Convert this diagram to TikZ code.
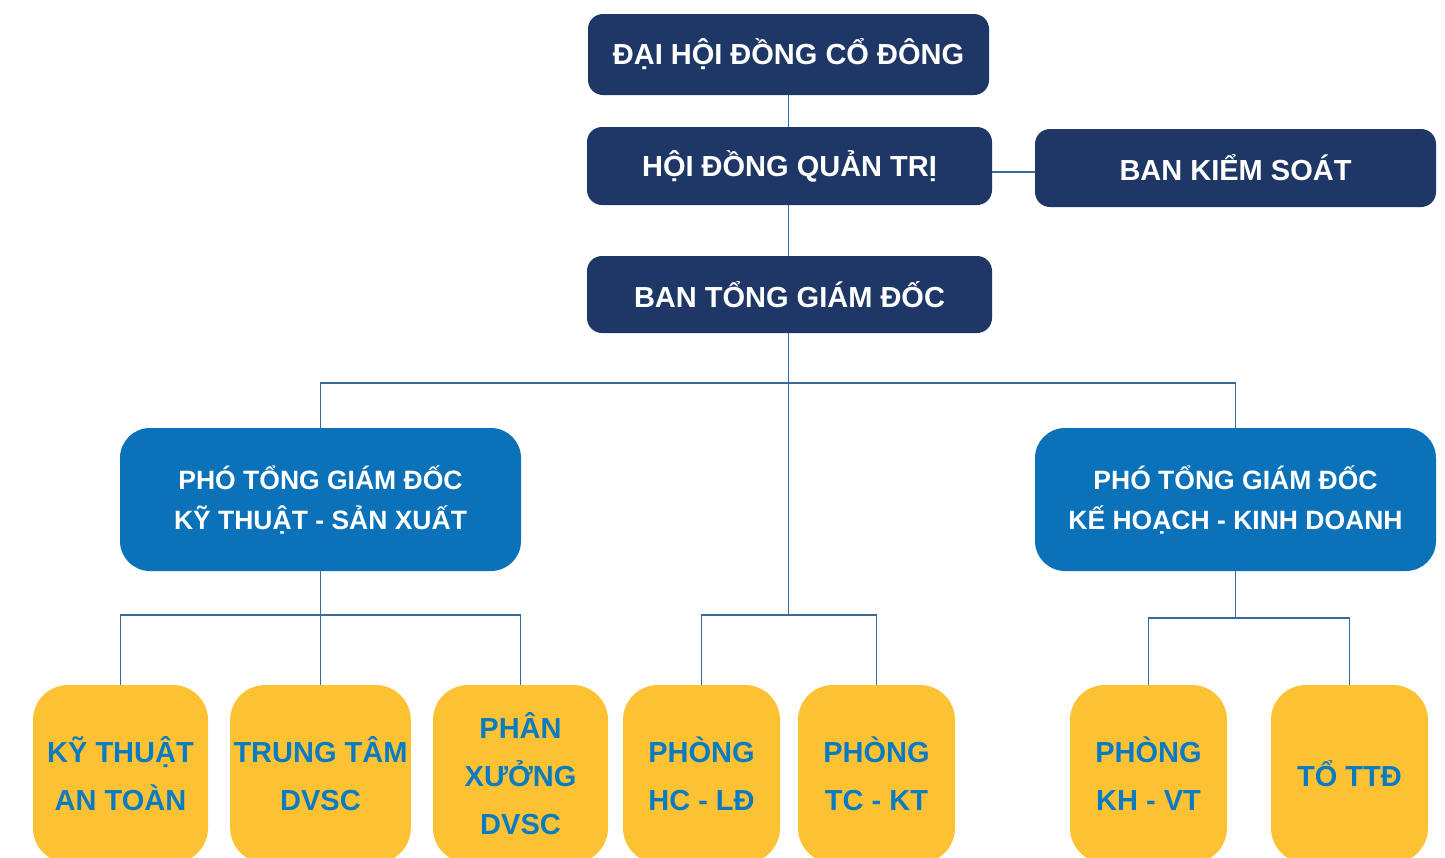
\documentclass[tikz,border=0pt]{standalone}
\usepackage{fontspec}
\setmainfont{Liberation Sans}
\definecolor{navy}{HTML}{1F3767}
\definecolor{midblue}{HTML}{0B72B9}
\definecolor{gold}{HTML}{FDC234}
\definecolor{goldtext}{HTML}{0B7BC1}
\definecolor{linkcol}{HTML}{3A6A9A}
\tikzset{
  topbox/.style={fill=navy,text=white,rounded corners=15pt,font=\bfseries\fontsize{29}{35}\selectfont},
  vicebox/.style={fill=midblue,text=white,rounded corners=30pt,minimum width=401pt,minimum height=143pt,align=center,font=\bfseries\fontsize{26.5}{40}\selectfont},
  unitbox/.style={fill=gold,text=goldtext,rounded corners=35pt,minimum height=178pt,align=center,font=\bfseries\fontsize{29}{48}\selectfont},
  link/.style={color=linkcol,line width=1.5pt}
}
\begin{document}
\begin{tikzpicture}[x=1pt,y=-1pt]
\clip (0,0) rectangle (1445,857);
\fill[white] (0,0) rectangle (1445,857);
% top levels
\node[topbox,minimum width=401pt,minimum height=81pt] (dhd) at (788.5,54.5) {ĐẠI HỘI ĐỒNG CỔ ĐÔNG};
\node[topbox,minimum width=405pt,minimum height=78pt] (hdqt) at (789.5,166) {HỘI ĐỒNG QUẢN TRỊ};
\node[topbox,minimum width=401pt,minimum height=78pt] (bks) at (1235.5,168) {BAN KIỂM SOÁT};
\node[topbox,minimum width=405pt,minimum height=77pt] (btgd) at (789.5,294.5) {BAN TỔNG GIÁM ĐỐC};
% vice directors
\node[vicebox] (ptkt) at (320.5,499.5) {PHÓ TỔNG GIÁM ĐỐC\\KỸ THUẬT - SẢN XUẤT};
\node[vicebox] (ptkd) at (1235.5,499.5) {PHÓ TỔNG GIÁM ĐỐC\\KẾ HOẠCH - KINH DOANH};
% units
\node[unitbox,minimum width=175pt] (ktat) at (120.5,774) {KỸ THUẬT\\AN TOÀN};
\node[unitbox,minimum width=175pt] (ttdv) at (320.5,774) {TRUNG TÂM\\DVSC};
\node[unitbox,minimum width=175pt] (pxdv) at (520.5,774) {PHÂN\\XƯỞNG\\DVSC};
\node[unitbox,minimum width=157pt] (hcld) at (701.5,774) {PHÒNG\\HC - LĐ};
\node[unitbox,minimum width=157pt] (tckt) at (876.5,774) {PHÒNG\\TC - KT};
\node[unitbox,minimum width=157pt] (khvt) at (1148.5,774) {PHÒNG\\KH - VT};
\node[unitbox,minimum width=157pt] (tttd) at (1349.5,774) {TỔ TTĐ};
% connectors
\draw[link] (dhd.south) -- (dhd.south |- hdqt.north);
\draw[link] ([yshift=-6pt]hdqt.east) -- ([yshift=-6pt]hdqt.east -| bks.west);
\draw[link] (hdqt.south -| dhd.south) -- (btgd.north -| dhd.south);
\draw[link] (ptkt.north) -- ++(0,-45) -| (ptkd.north);
\draw[link] (btgd.south -| dhd.south) -- ++(0,282) coordinate (midjoin);
\draw[link] (hcld.north) |- (midjoin) -| (tckt.north);
\draw[link] (ptkt.south) -- ++(0,44) coordinate (leftjoin);
\draw[link] (ktat.north) |- (leftjoin) -| (pxdv.north);
\draw[link] (leftjoin) -- (ttdv.north);
\draw[link] (ptkd.south) -- ++(0,47) coordinate (rightjoin);
\draw[link] (khvt.north) |- (rightjoin) -| (tttd.north);
\end{tikzpicture}
\end{document}
